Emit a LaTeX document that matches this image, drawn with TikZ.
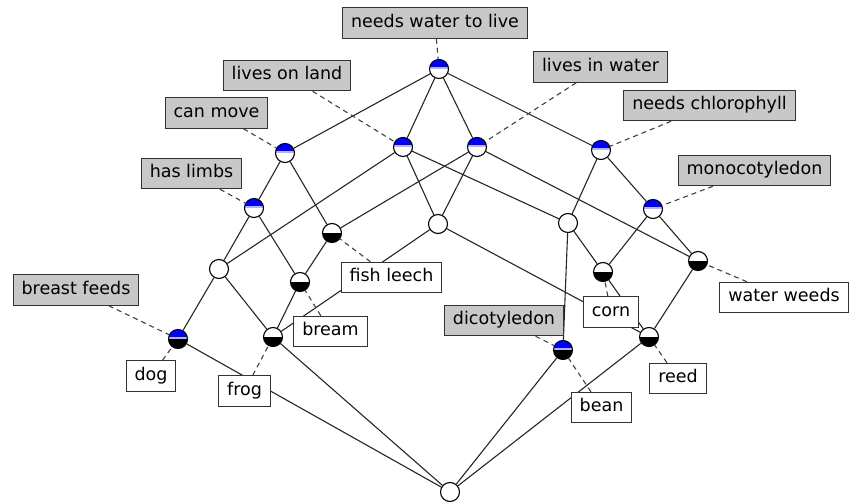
\documentclass[tikz,border=0pt]{standalone}
\usepackage{fontspec}
\setmainfont{DejaVu Sans}
\usetikzlibrary{backgrounds}
\definecolor{labelgray}{RGB}{200,200,200}
\newcommand{\attrhalf}{
   \fill[blue] (path picture bounding box.north west) rectangle ([yshift=1.6pt]path picture bounding box.east);
   \fill[blue!30] ([yshift=1.6pt]path picture bounding box.west) rectangle (path picture bounding box.east);
}
\newcommand{\objhalf}{
   \fill[black] (path picture bounding box.south west) rectangle ([yshift=-1.4pt]path picture bounding box.east);
   \draw[line width=0.6pt] (path picture bounding box.west) -- (path picture bounding box.east);
}
\tikzset{
  concept/.style={circle, draw=black, line width=1.1pt, fill=white, minimum size=19pt, inner sep=0pt},
  intent/.style={concept, path picture={\attrhalf}},
  extent/.style={concept, path picture={\objhalf}},
  fullnode/.style={concept, path picture={\attrhalf\objhalf}},
  attrlabel/.style={draw=black!80, line width=1pt, fill=labelgray, font=\fontsize{17.5}{20}\selectfont,
     text height=12.5pt, text depth=4pt, inner xsep=8.5pt, inner ysep=7pt},
  objlabel/.style={attrlabel, fill=white},
  edge/.style={line width=1.1pt, black!85},
  labelline/.style={black!75, line width=1.1pt, dash pattern=on 5pt off 4pt}
}

\begin{document}
\begin{tikzpicture}[x=1pt, y=-1pt]
		\useasboundingbox (0,0) rectangle (850,502);

		% Concepts
		\node[intent] (water) at (439,69) {};
		\node[intent] (move) at (285,153) {};
		\node[intent] (land) at (403,147) {};
		\node[intent] (inwater) at (477,147) {};
		\node[intent] (chloro) at (601,150) {};
		\node[intent] (limbs) at (254,208) {};
		\node[intent] (mono) at (653,209) {};
		\node[extent] (fish) at (332,233) {};
		\node[concept] (mid) at (438,224) {};
		\node[concept] (plant) at (568,223) {};
		\node[concept] (animal) at (219,269) {};
		\node[extent] (bream) at (300,282) {};
		\node[extent] (corn) at (603,272) {};
		\node[extent] (weeds) at (698,261) {};
		\node[fullnode] (dog) at (178,339) {};
		\node[extent] (frog) at (273,337) {};
		\node[fullnode] (bean) at (563,350) {};
		\node[extent] (reed) at (649,337) {};
		\node[concept] (bottom) at (450,492) {};

		% Labels
		\node[attrlabel] (lwater) at (435,23) {needs water to live};
		\node[attrlabel] (lland) at (287,75.5) {lives on land};
		\node[attrlabel] (lmove) at (216.5,113) {can move};
		\node[attrlabel] (llimbs) at (191.5,173.5) {has limbs};
		\node[attrlabel] (linwater) at (600.5,67) {lives in water};
		\node[attrlabel] (lchloro) at (709.5,105.5) {needs chlorophyll};
		\node[attrlabel] (lmono) at (754.5,170.5) {monocotyledon};
		\node[attrlabel] (lbreast) at (76,290) {breast feeds};
		\node[attrlabel] (ldicot) at (504,320.5) {dicotyledon};
		%
		\node[objlabel] (lfish) at (391.5,277.5) {fish leech};
		\node[objlabel] (lbream) at (330.5,331.5) {bream};
		\node[objlabel] (ldog) at (151,376) {dog};
		\node[objlabel] (lfrog) at (244.5,391) {frog};
		\node[objlabel] (lcorn) at (611,312) {corn};
		\node[objlabel] (lweeds) at (784,297.5) {water weeds};
		\node[objlabel] (lreed) at (678,378.5) {reed};
		\node[objlabel] (lbean) at (601.5,407.5) {bean};

		\begin{scope}[on background layer]
			% Lattice edges
			\foreach \a/\b in {water/move, water/land, water/inwater, water/chloro,
				move/limbs, move/fish, land/mid, land/animal, land/plant,
				inwater/mid, inwater/fish, inwater/weeds, chloro/plant, chloro/mono,
				limbs/animal, limbs/bream, fish/bream, mid/frog, mid/reed,
				plant/corn, plant/bean, mono/corn, mono/weeds, animal/dog, animal/frog,
				bream/frog, corn/reed, weeds/reed,
				dog/bottom, frog/bottom, bean/bottom, reed/bottom}
				\draw[edge] (\a) -- (\b);
			% Label lines
			\foreach \l/\c in {lwater/water, lland/land, lmove/move, llimbs/limbs,
				linwater/inwater, lchloro/chloro, lmono/mono, lbreast/dog, ldicot/bean,
				lfish/fish, lbream/bream, ldog/dog, lfrog/frog, lcorn/corn,
				lweeds/weeds, lreed/reed, lbean/bean}
				\draw[labelline] (\l) -- (\c);
		\end{scope}
	\end{tikzpicture}
\end{document}
